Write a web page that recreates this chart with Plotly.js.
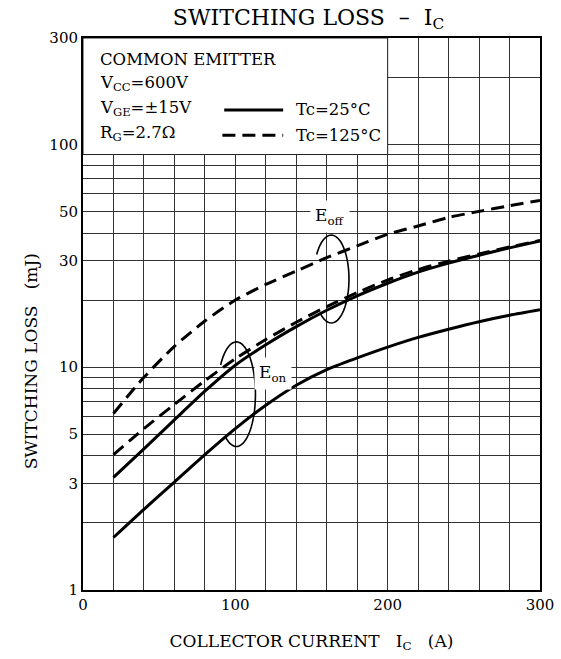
<!DOCTYPE html>
<html>
<head>
<meta charset="utf-8">
<script src="https://cdn.plot.ly/plotly-3.0.1.min.js"></script>
<style>html,body{margin:0;padding:0;background:#fff;}#chart{width:561px;height:659px;}</style>
</head>
<body>
<div id="chart"></div>
<script>
// ---- data ----
var collectorCurrent = [20, 40, 60, 80, 100, 120, 140, 160, 180, 200, 220, 240, 260, 280, 300];
var eoff125 = [6.2, 9.0, 12.4, 16.1, 20.0, 23.5, 27.0, 31.0, 35.0, 39.5, 43.0, 47.0, 50.0, 53.0, 56.0];
var eoff25  = [3.2, 4.3, 5.8, 7.8, 10.2, 12.6, 15.2, 18.0, 20.9, 23.8, 26.7, 29.3, 31.8, 34.3, 36.8];
var eon125  = [4.05, 5.3, 6.8, 8.7, 10.9, 13.3, 15.9, 18.7, 21.6, 24.6, 27.4, 29.9, 32.2, 34.6, 37.0];
var eon25   = [1.72, 2.3, 3.05, 4.05, 5.3, 6.75, 8.3, 9.75, 11.0, 12.3, 13.6, 14.8, 16.0, 17.1, 18.1];

var xTickVals = [0, 100, 200, 300];
var xTickText = ['0', '100', '200', '300'];
var xGridVals = [20, 40, 60, 80, 120, 140, 160, 180, 220, 240, 260, 280];
var yTickVals = [1, 3, 5, 10, 30, 50, 100, 300];
var yTickText = ['1', '3', '5', '10', '30', '50', '100', '300'];
var yGridVals = [2, 4, 6, 7, 8, 9, 20, 40, 60, 70, 80, 90, 200];

var conditionLines = ['COMMON EMITTER', 'V<sub>CC</sub>=600V', 'V<sub>GE</sub>=\u00b115V', 'R<sub>G</sub>=2.7\u03a9'];
var legendLabels = ['Tc=25\u00b0C', 'Tc=125\u00b0C'];

// ---- styling ----
var SERIF = 'DejaVu Serif, Liberation Serif, serif';
var CURVE_W = 3;
var DASH = '13px,7px';
var GRID = '#333';

function curve(y, dash) {
  return {
    x: collectorCurrent, y: y, type: 'scatter', mode: 'lines',
    line: {color: 'black', width: CURVE_W, dash: dash, shape: 'spline', smoothing: 0.7},
    showlegend: false, hoverinfo: 'skip'
  };
}

var traces = [
  curve(eoff125, DASH),
  curve(eoff25, 'solid'),
  curve(eon125, DASH),
  curve(eon25, 'solid')
];

// open ellipse (drawn in linear-x / log-y space) used to group curves
function ellipsePath(cx, lcy, rx, rly, t0, t1) {
  var d = '';
  for (var t = t0; t <= t1 + 0.001; t += 4) {
    var a = t * Math.PI / 180;
    var x = cx + rx * Math.cos(a);
    var y = Math.pow(10, lcy - rly * Math.sin(a));
    d += (d ? ' L' : 'M') + x.toFixed(3) + ',' + y.toFixed(4);
  }
  return d;
}

var shapes = [
  {type: 'rect', xref: 'x', yref: 'y', x0: 0, x1: 200, y0: 90, y1: 300,
   fillcolor: 'white', line: {color: '#222', width: 1}, layer: 'between'},
  {type: 'path', xref: 'x', yref: 'y', path: ellipsePath(163.0, 1.3955, 11.6, 0.197, 214, 490),
   line: {color: 'black', width: 1.6}},
  {type: 'path', xref: 'x', yref: 'y', path: ellipsePath(100.7, 0.8787, 12.5, 0.2346, 214, 486),
   line: {color: 'black', width: 1.6}},
  {type: 'line', xref: 'paper', yref: 'paper', x0: 0.309, x1: 0.438, y0: 0.8696, y1: 0.8696,
   line: {color: 'black', width: 3}},
  {type: 'line', xref: 'paper', yref: 'paper', x0: 0.305, x1: 0.438, y0: 0.824, y1: 0.824,
   line: {color: 'black', width: 3, dash: DASH}}
];

var condY = [0.961, 0.917, 0.872, 0.827];
var annotations = [];
conditionLines.forEach(function (t, i) {
  annotations.push({text: t, xref: 'paper', yref: 'paper', x: 0.032, y: condY[i],
    xanchor: 'left', yanchor: 'middle', showarrow: false,
    font: {family: SERIF, size: 16.5, color: 'black'}});
});
var legY = [0.8696, 0.824];
legendLabels.forEach(function (t, i) {
  annotations.push({text: t, xref: 'paper', yref: 'paper', x: 0.462, y: legY[i],
    xanchor: 'left', yanchor: 'middle', showarrow: false,
    font: {family: SERIF, size: 16.5, color: 'black'}});
});
annotations.push({text: 'E<sub>off</sub>', xref: 'x', yref: 'y', x: 162.4, y: Math.log10(47.5),
  showarrow: false, bgcolor: 'white', borderpad: 4,
  font: {family: SERIF, size: 17, color: 'black'}});
annotations.push({text: 'E<sub>on</sub>', xref: 'x', yref: 'y', x: 125, y: Math.log10(9.4),
  showarrow: false, bgcolor: 'white', borderpad: 4,
  font: {family: SERIF, size: 17, color: 'black'}});
annotations.push({text: 'SWITCHING LOSS\u00a0\u00a0 (mJ)', xref: 'paper', yref: 'paper',
  x: -0.115, y: 0.415, xanchor: 'center', yanchor: 'middle', textangle: -90, showarrow: false,
  font: {family: SERIF, size: 17, color: 'black'}});

var minorGrid = {showgrid: true, gridcolor: GRID, gridwidth: 1, ticks: ''};

var layout = {
  width: 561, height: 659,
  margin: {l: 83, r: 21, t: 38, b: 69, pad: 0},
  paper_bgcolor: 'white', plot_bgcolor: 'white',
  showlegend: false,
  title: {text: 'SWITCHING LOSS\u00a0\u00a0\u2013\u00a0\u00a0I<sub>C</sub>', x: 0.55, xanchor: 'center',
          y: 0.986, yanchor: 'top', font: {family: SERIF, size: 22, color: 'black'}},
  xaxis: {
    range: [0, 300], tickmode: 'array', tickvals: xTickVals, ticktext: xTickText,
    minor: Object.assign({tickmode: 'array', tickvals: xGridVals}, minorGrid),
    showgrid: true, gridcolor: GRID, gridwidth: 1, zeroline: false,
    showline: true, linecolor: 'black', linewidth: 2, mirror: true, ticks: '',
    tickfont: {family: SERIF, size: 15, color: 'black'},
    title: {text: 'COLLECTOR CURRENT\u00a0\u00a0 I<sub>C</sub>\u00a0\u00a0 (A)', standoff: 22,
            font: {family: SERIF, size: 17, color: 'black'}}
  },
  yaxis: {
    type: 'log', range: [0, Math.log10(300)], tickmode: 'array', tickvals: yTickVals, ticktext: yTickText,
    minor: Object.assign({tickmode: 'array', tickvals: yGridVals}, minorGrid),
    showgrid: true, gridcolor: GRID, gridwidth: 1, zeroline: false,
    showline: true, linecolor: 'black', linewidth: 2, mirror: true, ticks: '',
    tickfont: {family: SERIF, size: 15, color: 'black'}
  },
  shapes: shapes,
  annotations: annotations
};

Plotly.newPlot('chart', traces, layout, {staticPlot: true, displayModeBar: false});
</script>
</body>
</html>
